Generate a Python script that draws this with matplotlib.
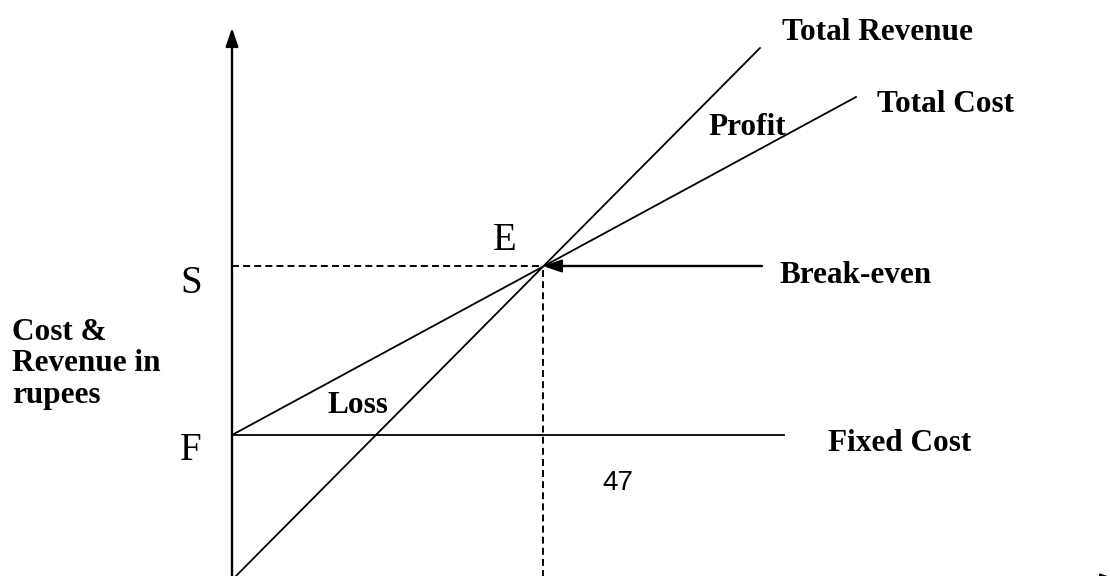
import matplotlib
matplotlib.use('Agg')
import matplotlib.pyplot as plt

plt.rcParams['font.family'] = ['Liberation Serif', 'DejaVu Serif']
plt.rcParams['lines.scale_dashes'] = False

# Values (quantity units, rupee units)
revenue_q = [0, 52.8]
revenue = [0, 53.2]
cost_q = [0, 62.4]
cost = [14.5, 48.3]
fixed_q = [0, 55.2]
fixed_cost = [14.5, 14.5]
breakeven_q = 31.1
breakeven_s = 31.4
breakeven_label_q = 53.0
y_axis_top = 55.2
x_axis_end = 88.7

fig = plt.figure(figsize=(11.1, 5.76), dpi=100)
ax = fig.add_axes([0, 0, 1, 1])
ax.set_xlim(-23.2, 87.8)
ax.set_ylim(0.4, 58.0)
ax.axis('off')

# Axes with arrows
ax.annotate('', xy=(0, y_axis_top), xytext=(0, -1), annotation_clip=False,
            arrowprops=dict(arrowstyle='-|>,head_length=1.1,head_width=0.38',
                            lw=1.7, color='black', shrinkA=0, shrinkB=0))
ax.annotate('', xy=(x_axis_end, 0), xytext=(0, 0), annotation_clip=False,
            arrowprops=dict(arrowstyle='-|>,head_length=1.1,head_width=0.38',
                            lw=1.7, color='black', shrinkA=0, shrinkB=0))

# Lines
ax.plot(revenue_q, revenue, color='black', lw=1.3)
ax.plot(cost_q, cost, color='black', lw=1.3)
ax.plot(fixed_q, fixed_cost, color='black', lw=1.3)

# Dashed guides to break-even point
ax.plot([0, breakeven_q], [breakeven_s, breakeven_s], color='black', lw=1.4,
        linestyle=(0, (5, 3)))
ax.plot([breakeven_q, breakeven_q], [-1, breakeven_s], color='black', lw=1.4,
        linestyle=(0, (5, 3)))

# Break-even arrow
ax.annotate('', xy=(breakeven_q, breakeven_s), xytext=(breakeven_label_q, breakeven_s),
            arrowprops=dict(arrowstyle='-|>,head_length=1.1,head_width=0.38',
                            lw=1.7, color='black', shrinkA=0, shrinkB=0))

bold = dict(fontsize=22.5, fontweight='bold', va='baseline', ha='left')
ax.text(55.0, 54.0, 'Total Revenue', **bold)
ax.text(64.5, 46.8, 'Total Cost', **bold)
ax.text(47.6, 44.5, 'Profit', **bold)
ax.text(54.8, 29.7, 'Break-even', **bold)
ax.text(59.6, 12.9, 'Fixed Cost', **bold)
ax.text(9.6, 16.7, 'Loss', **bold)
ax.text(-22.0, 17.7, 'Cost &\nRevenue in\nrupees', fontsize=22.5, fontweight='bold',
        va='baseline', ha='left', linespacing=1.12)

big = dict(fontsize=28, va='baseline', ha='left')
ax.text(-5.2, 28.7, 'S', **big)
ax.text(-5.2, 12.0, 'F', **big)
ax.text(26.1, 33.0, 'E', **big)

ax.text(37.0, 9.0, '47', fontsize=20, family='Liberation Sans', va='baseline', ha='left')

fig.savefig('out.png', dpi=100)
